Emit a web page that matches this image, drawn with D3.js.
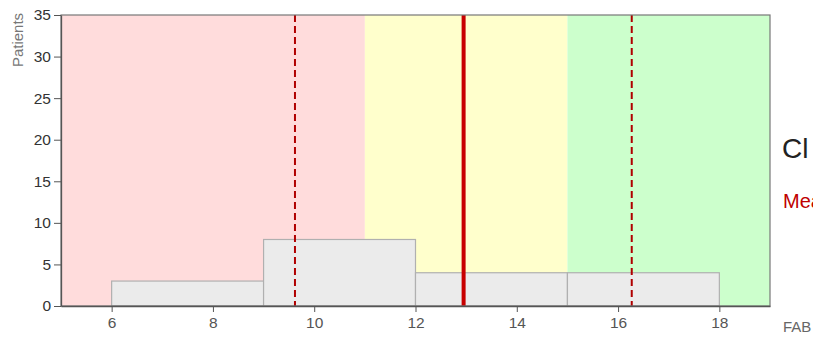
<!DOCTYPE html>
<html>
<head>
<meta charset="utf-8">
<script src="https://cdn.jsdelivr.net/npm/d3@7"></script>
<style>
body { margin: 0; background: #fff; overflow: hidden; }
text { font-family: "Liberation Sans", Arial, sans-serif; }
</style>
</head>
<body>
<div id="chart-area"></div>
<script>
// ** Data **
var binStarts = [6, 9, 12, 15];
var binEnds = [9, 12, 15, 18];
var binCounts = [3, 8, 4, 4];

var zoneStarts = [5, 11, 15];
var zoneEnds = [11, 15, 19];
var zoneColors = ["#ffdcdc", "#ffffcc", "#ccffcc"];

var meanValue = 12.95;
var sdLines = [9.62, 16.27];

var xTicks = [6, 8, 10, 12, 14, 16, 18];
var yTicks = [0, 5, 10, 15, 20, 25, 30, 35];

// ** Dimensions **
var viewWidth = 813, viewHeight = 337;
var margin = { left: 61, right: 43, top: 15, bottom: 31 };
var width = viewWidth - margin.left - margin.right;
var height = viewHeight - margin.top - margin.bottom;

var svg = d3.select("#chart-area")
	.append("svg")
	.attr("width", viewWidth)
	.attr("height", viewHeight);

// The side texts are cut by the figure's edge in the original
svg.append("clipPath")
	.attr("id", "side-clip")
	.append("rect")
	.attr("x", 0).attr("y", 0)
	.attr("width", 808).attr("height", viewHeight);

var g = svg.append("g")
	.attr("transform", "translate(" + margin.left + ", " + margin.top + ")");

// Scales
var x = d3.scaleLinear().domain([5, 19]).range([0, width]);
var y = d3.scaleLinear().domain([0, 35]).range([height, 0]);

// Background zones
zoneStarts.forEach(function(s, i){
	g.append("rect")
		.attr("x", x(s))
		.attr("y", 0)
		.attr("width", x(zoneEnds[i]) - x(s))
		.attr("height", height)
		.attr("fill", zoneColors[i]);
});

// Histogram bars
binStarts.forEach(function(s, i){
	g.append("rect")
		.attr("x", x(s))
		.attr("y", y(binCounts[i]))
		.attr("width", x(binEnds[i]) - x(s))
		.attr("height", height - y(binCounts[i]))
		.attr("fill", "#ebebeb")
		.attr("stroke", "#b0b0b0")
		.attr("stroke-width", 1.2);
});

// Mean +/- SD lines
sdLines.forEach(function(v){
	g.append("line")
		.attr("x1", x(v)).attr("x2", x(v))
		.attr("y1", 0).attr("y2", height)
		.attr("stroke", "#b00000")
		.attr("stroke-width", 2)
		.attr("stroke-dasharray", "7,4");
});
g.append("line")
	.attr("x1", x(meanValue)).attr("x2", x(meanValue))
	.attr("y1", 0).attr("y2", height)
	.attr("stroke", "#c80000")
	.attr("stroke-width", 4);

// Frame
g.append("rect")
	.attr("width", width)
	.attr("height", height)
	.attr("fill", "none")
	.attr("stroke", "#777")
	.attr("stroke-width", 1.2);

// Axes
var xAxis = g.append("g")
	.attr("transform", "translate(0," + height + ")")
	.call(d3.axisBottom(x).tickValues(xTicks).tickSize(6).tickSizeOuter(0).tickPadding(5));
var yAxis = g.append("g")
	.call(d3.axisLeft(y).tickValues(yTicks).tickSize(7).tickSizeOuter(0).tickPadding(3));

xAxis.select(".domain").attr("stroke", "#555").attr("stroke-width", 1.3);
yAxis.select(".domain").attr("stroke", "#555").attr("stroke-width", 1.3);
xAxis.selectAll(".tick line").attr("stroke", "#555");
yAxis.selectAll(".tick line").attr("stroke", "#555");
xAxis.selectAll("text").attr("font-size", 15.5).attr("fill", "#555").attr("font-family", "Liberation Sans, Arial, sans-serif");
yAxis.selectAll("text").attr("font-size", 15.5).attr("fill", "#333").attr("font-family", "Liberation Sans, Arial, sans-serif");

// Labels
svg.append("text")
	.attr("transform", "translate(23, 40) rotate(-90)")
	.attr("text-anchor", "middle")
	.attr("font-size", 15)
	.attr("fill", "#777")
	.text("Patients");

svg.append("text")
	.attr("x", 783).attr("y", 332)
	.attr("font-size", 15)
	.attr("fill", "#666")
	.text("FAB score");

svg.append("text")
	.attr("x", 782).attr("y", 158)
	.attr("font-size", 28)
	.attr("fill", "#222")
	.attr("clip-path", "url(#side-clip)")
	.text("Clinical range");

svg.append("text")
	.attr("x", 783).attr("y", 208)
	.attr("font-size", 20)
	.attr("fill", "#c00000")
	.text("Mean: 12.95 ± 3.32");
</script>
</body>
</html>
